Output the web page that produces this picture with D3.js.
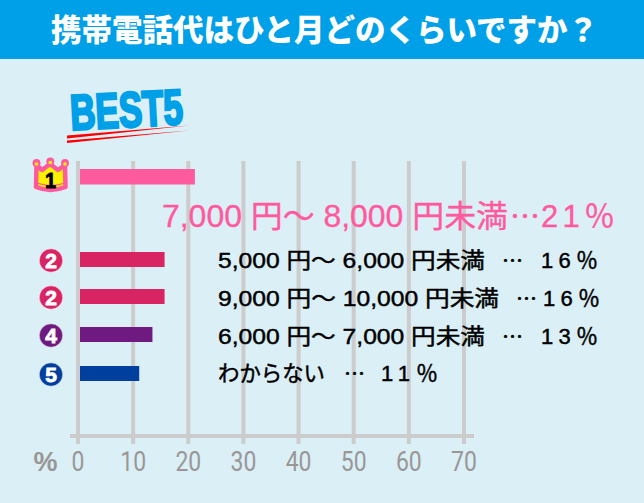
<!DOCTYPE html>
<html><head><meta charset="utf-8">
<script src="https://cdnjs.cloudflare.com/ajax/libs/d3/7.8.5/d3.min.js"></script>
<style>html,body{margin:0;padding:0;background:#dbeff7}svg{display:block}text{font-family:"Liberation Sans","Noto Sans CJK JP",sans-serif}</style>
</head><body><svg id="c" width="644" height="503"></svg>
<script>
const titleText = "携帯電話代はひと月どのくらいですか？";
const categories = ["7,000 円～ 8,000 円未満","5,000 円～ 6,000 円未満","9,000 円～ 10,000 円未満","6,000 円～ 7,000 円未満","わからない"];
const values = [21.2,15.7,15.7,13.5,11.1];
const ranks = ["1","2","2","4","5"];
const valueLabels = ["21％","16％","16％","13％","11％"];
const barColors = ["#ff5a9e","#d92464","#d92464","#6f1a80","#003f9e"];
const tickValues = [0,10,20,30,40,50,60,70];
const CJK = "'Noto Sans CJK JP',sans-serif";

const svg = d3.select("#c");
svg.append("rect").attr("width",644).attr("height",503).attr("fill","#dbeff7");
svg.append("rect").attr("width",644).attr("height",59).attr("fill","#00a0e9");
svg.append("text").attr("x",324.5).attr("y",41).attr("text-anchor","middle").attr("fill","#fff")
  .attr("font-size",30.5).attr("font-weight",900).style("font-family",CJK).text(titleText);

const x = d3.scaleLinear().domain([0,70]).range([78,464]);
const gridColor = "#cccccc";
const axisY = 436;
svg.append("g").selectAll("line").data(tickValues).join("line")
  .attr("x1",d=>x(d)).attr("x2",d=>x(d)).attr("y1",161).attr("y2",444)
  .attr("stroke",gridColor).attr("stroke-width",4);
svg.append("line").attr("x1",70).attr("x2",474).attr("y1",axisY).attr("y2",axisY)
  .attr("stroke",gridColor).attr("stroke-width",4);
svg.append("g").selectAll("text").data(tickValues).join("text")
  .attr("transform",d=>`translate(${x(d)},470.5) scale(0.82,1)`).attr("text-anchor","middle").attr("fill","#999796")
  .attr("font-size",28).style("font-family","'Roboto',sans-serif").text(d=>d);
svg.append("text").attr("x",45.5).attr("y",471).attr("text-anchor","middle").attr("fill","#999796")
  .attr("font-size",27).attr("font-weight",700).text("%");

const barTop = [169,252,289,327,366];
const barH = [15.5,15,15,15,15];
svg.append("g").selectAll("rect").data(values).join("rect")
  .attr("x",x(0)+2).attr("y",(d,i)=>barTop[i]).attr("height",(d,i)=>barH[i])
  .attr("width",d=>x(d)-x(0)-2).attr("fill",(d,i)=>barColors[i]);

// rank badges
ranks.forEach((r,i)=>{
  if(i===0) return;
  const cy = barTop[i]+8.5, cx = 51;
  svg.append("circle").attr("cx",cx).attr("cy",cy).attr("r",11.7).attr("fill",barColors[i]).attr("stroke","#fff").attr("stroke-opacity",.6).attr("stroke-width",.8);
  svg.append("text").attr("x",cx).attr("y",cy+7.5).attr("text-anchor","middle").attr("fill","#fff").attr("stroke","#fff").attr("stroke-width",.8)
    .attr("font-size",21).attr("font-weight",700).text(r);
});
// crown
const crown = "M36.5 165 L42 170 L50 164 L58 170 L65 165 L65.5 187 Q50.5 193 36 187 Z";
svg.append("path").attr("d",crown).attr("fill","#fff200").attr("stroke","#ff5a9e").attr("stroke-width",4.5).attr("stroke-linejoin","round");
[[36.5,163],[50.3,161.5],[65,163]].forEach(p=>{
  svg.append("circle").attr("cx",p[0]).attr("cy",p[1]).attr("r",4).attr("fill","#ff5a9e");
  svg.append("circle").attr("cx",p[0]).attr("cy",p[1]+1).attr("r",1.8).attr("fill","#fff200");
});
svg.append("path").attr("d","M37 183 Q50.5 188 65 183").attr("fill","none").attr("stroke","#ff5a9e").attr("stroke-width",1.2);
svg.append("text").attr("transform","translate(50.5,188) scale(0.95,1.05)").attr("text-anchor","middle").attr("fill","#000").attr("stroke","#000").attr("stroke-width",.8)
  .attr("font-size",21).attr("font-weight",700).text(ranks[0]);

// top label
const firstLabel = svg.append("g").attr("fill",barColors[0]).attr("stroke",barColors[0]).attr("stroke-width",.35);
firstLabel.append("text").attr("x",162).attr("y",227).attr("font-size",31)
  .attr("textLength",346).attr("lengthAdjust","spacingAndGlyphs").text(categories[0]);
firstLabel.append("text").attr("x",510).attr("y",227).attr("font-size",30).style("font-family",CJK).text("…");
firstLabel.append("text").attr("x",541).attr("y",227).attr("font-size",31)
  .attr("textLength",74).attr("lengthAdjust","spacing").text(valueLabels[0]);

// other labels
const rowBase = [null,268,306,344,381];
const catW    = [null,267,281,267,107];
const dotX    = [null,502,516,502,344];
const valX    = [null,541,543,541,381];
[1,2,3,4].forEach(i=>{
  const g = svg.append("g").attr("fill","#000").attr("stroke","#000").attr("stroke-width",.45);
  g.append("text").attr("x",218).attr("y",rowBase[i]).attr("font-size",21.5)
    .attr("textLength",catW[i]).attr("lengthAdjust","spacingAndGlyphs").text(categories[i]);
  g.append("text").attr("x",dotX[i]).attr("y",rowBase[i]).attr("font-size",21).style("font-family",CJK).text("…");
  g.append("text").attr("x",valX[i]).attr("y",rowBase[i]).attr("font-size",22)
    .attr("textLength",57).attr("lengthAdjust","spacing").text(valueLabels[i]);
});

// BEST5
const b = svg.append("g").attr("transform","translate(71,130) rotate(-3)");
b.append("text").attr("x",0).attr("y",0).attr("fill","#00a0e9").attr("stroke","#00a0e9").attr("stroke-width",2.6)
 .attr("font-size",50).attr("font-weight",700).attr("textLength",113).attr("lengthAdjust","spacingAndGlyphs").text("BEST5");
svg.append("path").attr("d","M67 135.5 L189 125.5 L67 138.5 Z").attr("fill","#f00");
svg.append("path").attr("d","M67 140.5 L189 130.5 L67 143 Z").attr("fill","#f00");
</script></body></html>
